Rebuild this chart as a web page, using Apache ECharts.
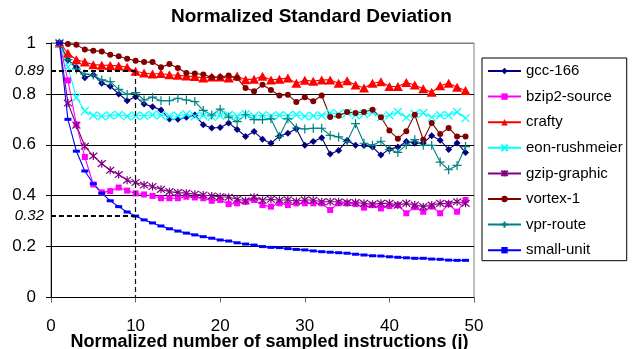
<!DOCTYPE html>
<html>
<head>
<meta charset="utf-8">
<title>Normalized Standard Deviation</title>
<script src="https://cdn.jsdelivr.net/npm/echarts@6/dist/echarts.min.js"></script>
<style>
  html, body { margin: 0; padding: 0; background: #fff; }
  #chart { width: 637px; height: 349px; }
</style>
</head>
<body>
<div id="chart"></div>
<script>
// j = normalized number of sampled instructions
const sampleCounts = [1, 2, 3, 4, 5, 6, 7, 8, 9, 10, 11, 12, 13, 14, 15, 16, 17, 18, 19, 20,
  21, 22, 23, 24, 25, 26, 27, 28, 29, 30, 31, 32, 33, 34, 35, 36, 37, 38, 39, 40,
  41, 42, 43, 44, 45, 46, 47, 48, 49]

// values
const gcc166 = [1, 0.934, 0.905, 0.863, 0.875, 0.842, 0.83, 0.80, 0.773, 0.789,
  0.76, 0.75, 0.737, 0.701, 0.70, 0.708, 0.717, 0.679, 0.666, 0.668,
  0.686, 0.66, 0.633, 0.652, 0.622, 0.606, 0.634, 0.645, 0.663, 0.598,
  0.613, 0.628, 0.564, 0.578, 0.617, 0.598, 0.597, 0.591, 0.56, 0.583,
  0.591, 0.613, 0.606, 0.607, 0.636, 0.618, 0.582, 0.607, 0.57]
const bzip2Source = [1, 0.853, 0.68, 0.552, 0.444, 0.413, 0.418, 0.432, 0.42, 0.409,
  0.405, 0.399, 0.39, 0.39, 0.39, 0.396, 0.393, 0.39, 0.38, 0.383,
  0.367, 0.37, 0.376, 0.383, 0.363, 0.357, 0.37, 0.363, 0.37, 0.37,
  0.37, 0.37, 0.344, 0.37, 0.37, 0.367, 0.353, 0.363, 0.35, 0.359,
  0.363, 0.331, 0.355, 0.337, 0.357, 0.331, 0.367, 0.337, 0.383]
const crafty = [1, 0.96, 0.934, 0.925, 0.915, 0.913, 0.912, 0.91, 0.905, 0.889,
  0.882, 0.878, 0.88, 0.875, 0.873, 0.87, 0.868, 0.862, 0.866, 0.866,
  0.862, 0.87, 0.856, 0.858, 0.869, 0.855, 0.858, 0.862, 0.842, 0.854,
  0.85, 0.855, 0.855, 0.842, 0.852, 0.835, 0.823, 0.842, 0.848, 0.829,
  0.829, 0.845, 0.835, 0.82, 0.806, 0.832, 0.842, 0.826, 0.813]
const eonRushmeier = [1, 0.905, 0.786, 0.733, 0.715, 0.712, 0.715, 0.718, 0.712, 0.714,
  0.714, 0.718, 0.716, 0.712, 0.714, 0.72, 0.712, 0.715, 0.71, 0.715,
  0.717, 0.712, 0.72, 0.712, 0.716, 0.712, 0.716, 0.714, 0.718, 0.712,
  0.714, 0.715, 0.725, 0.721, 0.725, 0.716, 0.721, 0.727, 0.708, 0.716,
  0.729, 0.708, 0.721, 0.725, 0.708, 0.716, 0.716, 0.729, 0.705]
const gzipGraphic = [1, 0.764, 0.677, 0.594, 0.556, 0.526, 0.5, 0.483, 0.461, 0.452,
  0.442, 0.436, 0.425, 0.416, 0.412, 0.41, 0.406, 0.403, 0.399, 0.396,
  0.394, 0.386, 0.38, 0.394, 0.382, 0.386, 0.382, 0.384, 0.378, 0.384,
  0.382, 0.376, 0.376, 0.376, 0.373, 0.373, 0.37, 0.366, 0.37, 0.37,
  0.363, 0.37, 0.363, 0.357, 0.363, 0.37, 0.368, 0.376, 0.37]
const vortex1 = [1, 0.996, 0.993, 0.974, 0.970, 0.967, 0.954, 0.948, 0.938, 0.930,
  0.925, 0.925, 0.905, 0.917, 0.902, 0.882, 0.88, 0.876, 0.865, 0.866,
  0.872, 0.862, 0.823, 0.81, 0.836, 0.815, 0.794, 0.797, 0.768, 0.787,
  0.771, 0.794, 0.709, 0.714, 0.729, 0.725, 0.729, 0.738, 0.708, 0.656,
  0.624, 0.653, 0.718, 0.62, 0.686, 0.642, 0.666, 0.633, 0.633]
const vprRoute = [1, 0.935, 0.898, 0.878, 0.874, 0.855, 0.848, 0.818, 0.798, 0.805,
  0.776, 0.787, 0.773, 0.773, 0.783, 0.776, 0.77, 0.735, 0.717, 0.74,
  0.709, 0.691, 0.718, 0.699, 0.699, 0.702, 0.633, 0.702, 0.666, 0.662,
  0.665, 0.665, 0.637, 0.631, 0.613, 0.683, 0.606, 0.598, 0.614, 0.581,
  0.57, 0.60, 0.62, 0.598, 0.598, 0.532, 0.502, 0.519, 0.593]
const smallUnit = [1, 0.70, 0.575, 0.497, 0.447, 0.41, 0.38, 0.357, 0.336, 0.32,
  0.305, 0.293, 0.281, 0.27, 0.261, 0.253, 0.246, 0.239, 0.233, 0.226,
  0.222, 0.215, 0.21, 0.206, 0.2, 0.197, 0.196, 0.192, 0.189, 0.187,
  0.183, 0.18, 0.178, 0.176, 0.174, 0.17, 0.167, 0.164, 0.163, 0.16,
  0.158, 0.156, 0.154, 0.154, 0.151, 0.15, 0.147, 0.146, 0.146]

// dashed reference lines: j = 10 and the two read-off levels
const refSample = 10
const refLevels = [0.89, 0.32]

const FONT = '"Liberation Sans", Arial, sans-serif'

// small stroked markers that echarts has no builtin for
const X_MARK = 'path://M0,0L10,10M10,0L0,10'
const STAR_MARK = 'path://M0,0L10,10M10,0L0,10M5,-1L5,11'
const PLUS_MARK = 'path://M5,0L5,10M0,5L10,5'

function pairs(values) {
  return values.map((v, i) => [sampleCounts[i], v])
}

function makeSeries(name, values, color, symbol, size, stroked) {
  return {
    name: name,
    type: 'line',
    data: pairs(values),
    symbol: symbol,
    symbolSize: size,
    showSymbol: true,
    lineStyle: { color: color, width: 1.1 },
    itemStyle: stroked
      ? { color: color, borderColor: color, borderWidth: 1.2 }
      : { color: color, borderWidth: 0 },
    emphasis: { disabled: true }
  }
}

const seriesList = [
  makeSeries('gcc-166', gcc166, '#000080', 'diamond', 7),
  makeSeries('bzip2-source', bzip2Source, '#FF00FF', 'rect', 6),
  makeSeries('crafty', crafty, '#FF0000', 'triangle', [10, 9]),
  makeSeries('eon-rushmeier', eonRushmeier, '#00FFFF', X_MARK, 8, true),
  makeSeries('gzip-graphic', gzipGraphic, '#800080', STAR_MARK, 8, true),
  makeSeries('vortex-1', vortex1, '#800000', 'circle', 6),
  makeSeries('vpr-route', vprRoute, '#008080', PLUS_MARK, 9, true),
  makeSeries('small-unit', smallUnit, '#0000FF', 'rect', [7, 3])
]

function refLabel(value) {
  return {
    show: true,
    position: 'start',
    distance: 7,
    formatter: value.toFixed(2),
    fontFamily: FONT,
    fontStyle: 'italic',
    fontSize: 15,
    color: '#000'
  }
}

// hidden series only carrying the dashed guides
seriesList.push({
  name: 'guides',
  type: 'line',
  data: [],
  markLine: {
    silent: true,
    symbol: ['none', 'none'],
    animation: false,
    data: [
      [
        { coord: [0, refLevels[0]], label: refLabel(refLevels[0]), lineStyle: { color: '#000', width: 2, type: [5, 3] } },
        { coord: [refSample, refLevels[0]] }
      ],
      [
        { coord: [0, refLevels[1]], label: refLabel(refLevels[1]), lineStyle: { color: '#000', width: 2, type: [5, 3] } },
        { coord: [refSample, refLevels[1]] }
      ],
      [
        { coord: [refSample, refLevels[0]], label: { show: false }, lineStyle: { color: '#111', width: 1.2, type: [5, 3] } },
        { coord: [refSample, 0] }
      ]
    ]
  }
})

const chart = echarts.init(document.getElementById('chart'), null, { renderer: 'canvas' })

chart.setOption({
  animation: false,
  backgroundColor: '#fff',
  title: {
    text: 'Normalized Standard Deviation',
    left: 171,
    top: 7,
    padding: 0,
    textStyle: { fontFamily: FONT, fontSize: 19, fontWeight: 'bold', color: '#000' }
  },
  grid: {
    left: 51,
    right: 163,
    top: 43,
    bottom: 51.5,
    outerBoundsMode: 'none',
    containLabel: false,
    show: true,
    borderColor: '#808080',
    borderWidth: 1,
    backgroundColor: 'transparent'
  },
  legend: {
    data: seriesList.slice(0, 8).map(s => s.name),
    orient: 'vertical',
    left: 482,
    top: 58,
    padding: [5.5, 4, 3, 5],
    itemWidth: 33,
    itemHeight: 8,
    itemGap: 10.6,
    borderColor: '#000',
    borderWidth: 1,
    selectedMode: false,
    textStyle: { fontFamily: FONT, fontSize: 15, color: '#000', lineHeight: 15 }
  },
  xAxis: {
    type: 'value',
    min: 0,
    max: 50,
    interval: 10,
    name: 'Normalized number of sampled instructions (j)',
    nameLocation: 'middle',
    nameGap: 36,
    nameMoveOverlap: false,
    nameTextStyle: { fontFamily: FONT, fontSize: 18, fontWeight: 'bold', color: '#000', padding: [0, 0, 0, 14] },
    axisLine: { show: true, lineStyle: { color: '#000', width: 1 } },
    axisTick: { show: true, length: 5, lineStyle: { color: '#666' } },
    axisLabel: { margin: 20, fontFamily: FONT, fontSize: 17, color: '#000' },
    splitLine: { show: false }
  },
  yAxis: {
    type: 'value',
    min: 0,
    max: 1,
    interval: 0.2,
    axisLine: { show: true, lineStyle: { color: '#000', width: 1 } },
    axisTick: { show: true, length: 5, lineStyle: { color: '#000' } },
    axisLabel: { margin: 15, fontFamily: FONT, fontSize: 17, color: '#000' },
    splitLine: {
      show: true,
      lineStyle: { color: ['#000', '#000', '#000', '#000', '#000', '#808080'], width: 1 }
    }
  },
  series: seriesList
})
</script>
</body>
</html>
